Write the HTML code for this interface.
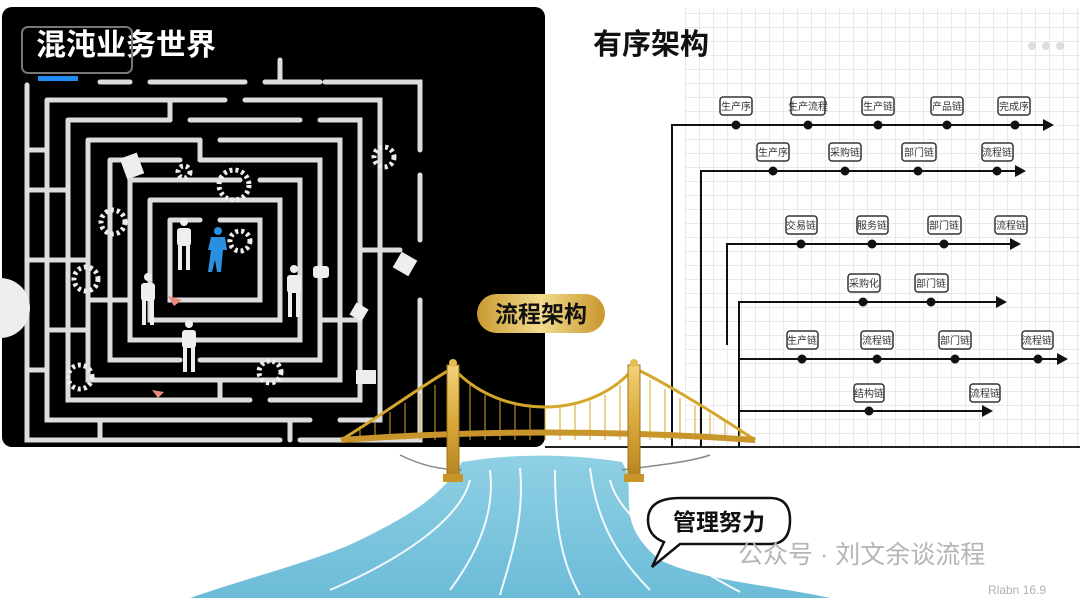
<!DOCTYPE html>
<html><head><meta charset="utf-8"><style>
html,body{margin:0;padding:0;background:#fff;width:1080px;height:598px;overflow:hidden}
svg{display:block}
text{font-family:"Liberation Sans","Noto Sans CJK SC",sans-serif}
</style></head><body>
<svg width="1080" height="598" viewBox="0 0 1080 598" xmlns="http://www.w3.org/2000/svg">
<defs>
<pattern id="grid" width="14" height="14" patternUnits="userSpaceOnUse"><path d="M14 0V14H0" fill="none" stroke="#d4d4d4" stroke-width="1"/></pattern>
<linearGradient id="gold" x1="0" y1="0" x2="0" y2="1"><stop offset="0" stop-color="#f2d27a"/><stop offset="0.5" stop-color="#d8a83a"/><stop offset="1" stop-color="#b48320"/></linearGradient>
<linearGradient id="pill" x1="0" y1="0" x2="1" y2="0"><stop offset="0" stop-color="#c99a30"/><stop offset="0.5" stop-color="#f3dc8e"/><stop offset="1" stop-color="#c8962b"/></linearGradient>
<linearGradient id="water" x1="0" y1="0" x2="0" y2="1"><stop offset="0" stop-color="#8fd0e4"/><stop offset="1" stop-color="#6cbcd8"/></linearGradient>
</defs>
<rect width="1080" height="598" fill="#fff"/>
<rect x="2" y="7" width="543" height="440" rx="10" fill="#000"/>
<rect x="685" y="8" width="395" height="439" fill="url(#grid)"/>
<line x1="545" y1="447" x2="1080" y2="447" stroke="#222" stroke-width="2"/>
<g fill="none" stroke="#ddd" stroke-width="5" stroke-linecap="round">
<path d="M100 82H130M150 82H245M265 82H320M325 82H420V150M420 175V240M420 300V440H300M280 440H27V85"/>
<path d="M47 100H225M245 100H380V420H340M310 420H47V100"/>
<path d="M68 120H170M190 120H300M320 120H360V400H270M250 400H68V120"/>
<path d="M88 140H200M220 140H340V380H88V140"/>
<path d="M110 160H180M200 160H320V360H200M180 360H110V160"/>
<path d="M130 180H240M260 180H300V340H130V180"/>
<path d="M150 200H280V320H150V200"/>
<path d="M170 220H200M220 220H260V300H170V220"/>
<path d="M27 150H47M27 190H68M27 260H88M88 300H130M47 330H88M27 370H47M170 100V120M200 140V160M280 60V82M300 200V230M360 250H400M380 300V340M320 320H360M220 380V400M100 420V440M290 420V440"/>
</g>
<g fill="none" stroke="#eee" stroke-width="5" stroke-dasharray="3 3">
<circle cx="384" cy="157" r="10"/><circle cx="234" cy="185" r="15"/><circle cx="113" cy="222" r="12"/><circle cx="240" cy="241" r="10"/><circle cx="86" cy="279" r="12"/><circle cx="80" cy="377" r="12"/><circle cx="270" cy="372" r="11"/><circle cx="184" cy="172" r="6"/>
</g>
<g fill="#eee">
<g id="p"><circle cx="184" cy="222" r="4"/><rect x="177" y="228" width="14" height="18" rx="3"/><rect x="178" y="244" width="4" height="26"/><rect x="186" y="244" width="4" height="26"/></g>
<use href="#p" x="-36" y="55"/><use href="#p" x="110" y="47"/><use href="#p" x="5" y="102"/>
<rect x="123" y="155" width="18" height="22" transform="rotate(-20 132 166)"/>
<rect x="396" y="255" width="18" height="18" transform="rotate(30 405 264)"/>
<rect x="352" y="305" width="14" height="14" transform="rotate(30 359 312)"/>
<rect x="356" y="370" width="20" height="14"/>
<rect x="313" y="266" width="16" height="12" rx="3"/>
</g>
<g fill="#2a8fe0"><circle cx="218" cy="231" r="4"/><path d="M211 237h14l2 13h-4l-2 22h-4l-2-12-3 12h-4l3-22h-3z"/></g>
<path d="M168 296l14 4-8 6z" fill="#e98a80"/><path d="M152 390l12 2-6 6z" fill="#e98a80"/>
<text x="36" y="55" font-size="30" font-weight="bold" fill="#fff">混沌业务世界</text>
<rect x="22" y="27" width="110" height="46" rx="6" fill="none" stroke="#777" stroke-width="2"/>
<rect x="38" y="76" width="40" height="5" fill="#1e8cf0"/>
<text x="593" y="54" font-size="29" font-weight="bold" fill="#111">有序架构</text>
<circle cx="1032" cy="46" r="4" fill="#ddd"/><circle cx="1046" cy="46" r="4" fill="#ddd"/><circle cx="1060" cy="46" r="4" fill="#ddd"/>
<g stroke="#111" stroke-width="2" fill="none">
<path d="M672 447V125H1046M701 447V171H1018M727 345V244H1013M739 447V302H999M739 359H1060M739 411H985"/>
</g>
<g fill="#111">
<path d="M1054 125l-11-6v12zM1026 171l-11-6v12zM1021 244l-11-6v12zM1007 302l-11-6v12zM1068 359l-11-6v12zM993 411l-11-6v12z"/>
<circle cx="736" cy="125" r="4.5"/><circle cx="808" cy="125" r="4.5"/><circle cx="878" cy="125" r="4.5"/><circle cx="947" cy="125" r="4.5"/><circle cx="1015" cy="125" r="4.5"/>
<circle cx="773" cy="171" r="4.5"/><circle cx="845" cy="171" r="4.5"/><circle cx="918" cy="171" r="4.5"/><circle cx="997" cy="171" r="4.5"/>
<circle cx="801" cy="244" r="4.5"/><circle cx="872" cy="244" r="4.5"/><circle cx="944" cy="244" r="4.5"/>
<circle cx="863" cy="302" r="4.5"/><circle cx="931" cy="302" r="4.5"/>
<circle cx="802" cy="359" r="4.5"/><circle cx="877" cy="359" r="4.5"/><circle cx="955" cy="359" r="4.5"/><circle cx="1038" cy="359" r="4.5"/>
<circle cx="869" cy="411" r="4.5"/>
</g>
<g fill="#fff" stroke="#333" stroke-width="1.5">
<rect x="720" y="97" width="32" height="18" rx="3"/><rect x="791" y="97" width="34" height="18" rx="3"/><rect x="862" y="97" width="32" height="18" rx="3"/><rect x="931" y="97" width="32" height="18" rx="3"/><rect x="998" y="97" width="32" height="18" rx="3"/>
<rect x="757" y="143" width="32" height="18" rx="3"/><rect x="829" y="143" width="32" height="18" rx="3"/><rect x="902" y="143" width="34" height="18" rx="3"/><rect x="982" y="143" width="31" height="18" rx="3"/>
<rect x="786" y="216" width="31" height="18" rx="3"/><rect x="857" y="216" width="31" height="18" rx="3"/><rect x="928" y="216" width="33" height="18" rx="3"/><rect x="995" y="216" width="32" height="18" rx="3"/>
<rect x="848" y="274" width="32" height="18" rx="3"/><rect x="915" y="274" width="33" height="18" rx="3"/>
<rect x="787" y="331" width="31" height="18" rx="3"/><rect x="861" y="331" width="32" height="18" rx="3"/><rect x="939" y="331" width="32" height="18" rx="3"/><rect x="1022" y="331" width="31" height="18" rx="3"/>
<rect x="854" y="384" width="30" height="18" rx="3"/><rect x="970" y="384" width="30" height="18" rx="3"/>
</g>
<g font-size="10" fill="#333" text-anchor="middle">
<text x="736" y="110">生产序</text><text x="808" y="110">生产流程</text><text x="878" y="110">生产链</text><text x="947" y="110">产品链</text><text x="1014" y="110">完成序</text>
<text x="773" y="156">生产序</text><text x="845" y="156">采购链</text><text x="919" y="156">部门链</text><text x="997" y="156">流程链</text>
<text x="801" y="229">交易链</text><text x="872" y="229">服务链</text><text x="944" y="229">部门链</text><text x="1011" y="229">流程链</text>
<text x="864" y="287">采购化</text><text x="931" y="287">部门链</text>
<text x="802" y="344">生产链</text><text x="877" y="344">流程链</text><text x="955" y="344">部门链</text><text x="1037" y="344">流程链</text>
<text x="869" y="397">结构链</text><text x="985" y="397">流程链</text>
</g>
<path d="M0 447H545V460C520 470 490 455 462 470 430 480 440 500 410 510 380 530 330 540 300 560 260 585 220 590 200 598H0Z" fill="#fff"/>
<path d="M462 462C520 452 580 455 622 462 640 490 610 520 660 560 700 580 770 585 830 598H190C240 580 320 560 360 540 400 520 440 500 462 462Z" fill="url(#water)"/>
<g stroke="#fff" stroke-width="2" fill="none" opacity="0.9">
<path d="M490 470C495 510 480 550 450 590M520 468C525 520 510 560 500 595M555 470C555 520 560 560 580 595M590 468C595 510 610 550 650 590M470 480C460 520 400 560 330 590M610 480C620 520 680 560 740 592"/>
</g>
<path d="M400 455C420 465 440 470 462 470M622 470C660 465 690 462 710 455" stroke="#888" stroke-width="1.5" fill="none"/>
<g fill="none">
<path d="M341 440C390 410 430 380 453 368C500 420 590 420 634 368C660 380 710 410 755 440" stroke="#d4a62a" stroke-width="3"/>
<g stroke="#d4a62a" stroke-width="1"><path d="M360 440V430M375 440V421M390 440V412M405 440V403M420 440V394M435 440V385M470 440V385M485 440V395M500 440V401M515 440V405M530 440V407M545 440V408M560 440V407M575 440V405M590 440V401M605 440V395M620 440V385M650 440V380M665 440V389M680 440V398M695 440V406M710 440V414M725 440V422M740 440V431"/></g>
<path d="M341 440Q548 425 755 440" stroke="#c8952a" stroke-width="6"/>
</g>
<rect x="447" y="365" width="12" height="115" fill="url(#gold)" stroke="#a07418"/>
<rect x="628" y="365" width="12" height="115" fill="url(#gold)" stroke="#a07418"/>
<circle cx="453" cy="363" r="4" fill="#e5bd55"/><circle cx="634" cy="363" r="4" fill="#e5bd55"/>
<rect x="443" y="474" width="20" height="8" fill="#c8952a"/><rect x="624" y="474" width="20" height="8" fill="#c8952a"/>
<rect x="477" y="294" width="128" height="39" rx="19.5" fill="url(#pill)"/>
<text x="541" y="322" font-size="23" font-weight="bold" text-anchor="middle" fill="#111">流程架构</text>
<path d="M680 498H770Q790 498 790 520Q790 544 770 544H680L652 567 664 542Q648 536 648 520Q648 498 680 498Z" fill="#fff" stroke="#111" stroke-width="2.5"/>
<text x="719" y="530" font-size="23" font-weight="bold" text-anchor="middle" fill="#111">管理努力</text>
<text x="738" y="563" font-size="25" fill="#b5b5b5">公众号 · 刘文余谈流程</text>
<text x="988" y="594" font-size="12" fill="#b0b0b0">Rlabn 16.9</text>
<circle cx="0" cy="308" r="30" fill="#eee"/>
</svg>
</body></html>
